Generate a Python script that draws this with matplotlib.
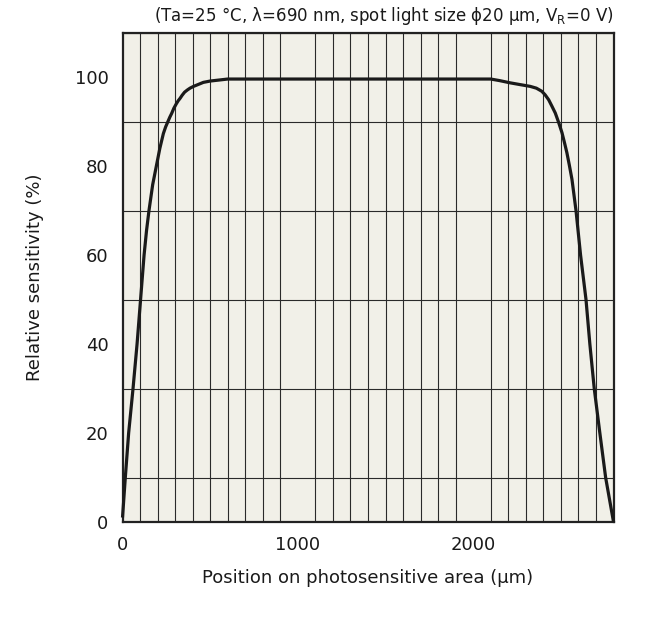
import matplotlib
matplotlib.use("Agg")
import matplotlib.pyplot as plt
import numpy as np

# Data
position_um = [0, 16, 35, 60, 83, 103, 123, 137, 151, 172, 193, 213, 233, 246, 259, 270, 280,
               293, 307, 318, 328, 340, 354, 370, 385, 405, 430, 461, 500, 556, 600,
               1000, 1500, 2000, 2100, 2150, 2210, 2260, 2325, 2360, 2391, 2410, 2430, 2448,
               2468, 2487, 2506, 2520, 2534, 2548, 2563, 2586, 2612, 2643, 2665, 2690, 2722,
               2755, 2800]
sensitivity = [1, 10, 20, 30, 40, 50, 60, 65.5, 70, 75.8, 80, 84, 87.3, 88.8, 90, 91, 91.8,
               93, 94, 94.7, 95.2, 95.9, 96.6, 97.1, 97.5, 97.9, 98.3, 98.8, 99.1, 99.35, 99.55,
               99.55, 99.55, 99.55, 99.55, 99.2, 98.7, 98.35, 97.9, 97.5, 96.8, 96.0, 94.9, 93.5,
               91.9, 89.8, 87.5, 85.3, 83, 80.2, 77, 70, 60, 50, 40, 30, 20,
               10, 0]
x_ticks = [0, 1000, 2000]
y_ticks = [0, 20, 40, 60, 80, 100]
title_text = "(Ta=25 °C, λ=690 nm, spot light size ϕ20 µm, V$_\\mathregular{R}$=0 V)"
x_label = "Position on photosensitive area (µm)"
y_label = "Relative sensitivity (%)"

plt.rcParams['font.family'] = ['DejaVu Sans']

fig = plt.figure(figsize=(6.59, 6.21), dpi=100)
ax = fig.add_axes([0.1859, 0.1594, 0.7451, 0.7882])
ax.set_facecolor('#F1F0E8')

ax.set_xlim(0, 2800)
ax.set_ylim(0, 110)
ax.set_xticks(x_ticks)
ax.set_yticks(y_ticks)
ax.set_xticks(np.arange(0, 2801, 100), minor=True)
ax.set_yticks(np.arange(0, 111, 10), minor=True)
ax.grid(which='minor', color='#2a2a2a', linewidth=0.8)
ax.grid(which='major', visible=False)
ax.set_axisbelow(True)
ax.tick_params(which='both', length=0)
ax.tick_params(axis='x', labelsize=13, pad=10, colors='#1a1a1a')
ax.tick_params(axis='y', labelsize=13, pad=10, colors='#1a1a1a')

for s in ax.spines.values():
    s.set_linewidth(1.6)
    s.set_color('#222222')

ax.plot(position_um, sensitivity, color='#1a1a1a', linewidth=2.3, solid_capstyle='butt',
        solid_joinstyle='round', clip_on=False, zorder=3)

ax.set_xlabel(x_label, fontsize=13, labelpad=11, color='#1a1a1a')
ax.set_ylabel(y_label, fontsize=13, labelpad=22, color='#1a1a1a')
ax.text(1.0, 1.012, title_text, transform=ax.transAxes, ha='right', va='bottom',
        fontsize=12, color='#1a1a1a')

fig.savefig('out.png', dpi=100)
